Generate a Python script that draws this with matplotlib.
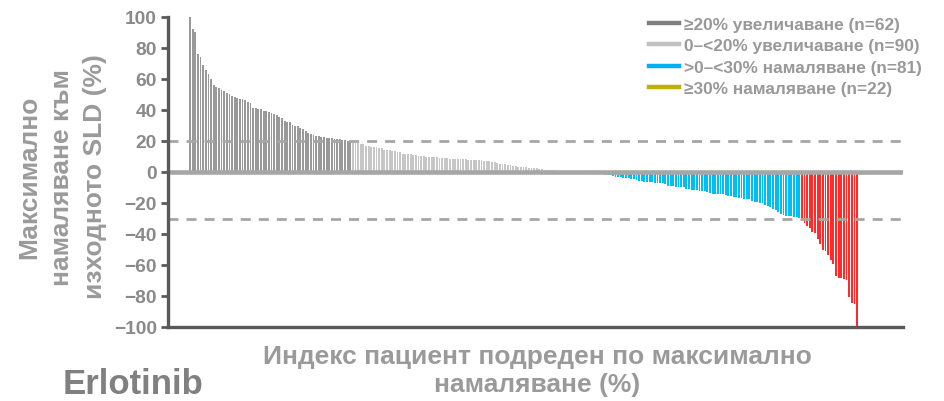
import matplotlib
matplotlib.use("Agg")
import matplotlib.pyplot as plt
from matplotlib.lines import Line2D
import numpy as np

plt.rcParams['font.family'] = ['Liberation Sans', 'DejaVu Sans']
plt.rcParams['font.weight'] = 'bold'
plt.rcParams['lines.scale_dashes'] = False

# Best change in sum of longest diameters (%), sorted, one value per patient
increase_ge20 = [100, 92, 90.5, 76, 74, 69, 66, 63.5, 60, 56, 55, 54.5, 53, 52, 51,
                 50.5, 49, 48.5, 47.5, 47, 47, 46.5, 45, 44.5, 41.5, 41, 40.8, 40.5,
                 39.5, 39.2, 38.6, 38.2, 37.5, 37, 35.5, 35, 33, 32.5, 32, 30.5, 30,
                 29.5, 28.5, 28, 26.5, 25, 24.5, 24, 23.5, 23, 22.8, 22.5, 22.2, 22,
                 21.8, 21.5, 21.2, 21, 20.8, 20.5, 20.3, 20.1]
increase_0_20 = [19, 18.7, 18.5, 18.3, 18, 17, 16.5, 16, 16, 16, 15.8, 15.5, 14.5, 14.3,
                 14, 13.5, 13.3, 13.1, 12.9, 11.8, 11.7, 11.6, 11.4, 11.2, 11, 10.6,
                 10.5, 10.3, 10, 9.9, 9.8, 9.6, 9.4, 9.3, 9.1, 9, 8.8, 8.6, 8.5, 8.4,
                 8.3, 8.2, 8.1, 8.1, 8, 8,
                 7.9, 7.8, 7.7, 7.6, 7.4, 7.2, 7.0, 6.6, 6.2, 5.8, 5.2, 5.0, 4.9, 4.7,
                 4.5, 3.8, 3.6, 3.5, 3.4, 3.1, 3.0, 2.9, 2.8, 2.8, 2.7, 2.2, 2.1, 1.6,
                 1.5, 1.4, 1.2, 1.0, 0.8, 0.7, 0.6, 0.5,
                 0.3, 0.2, 0.2, 0.1, 0.1, 0, 0, 0]
decrease_0_30 = [-0.2, -0.4, -0.6, -0.8, -1.0, -1.5,
                 -2, -2, -2.2, -2.5, -3, -3.1, -3.5, -3.7, -3.7, -4.1, -4.3, -4.8,
                 -5.1, -5.8, -5.8, -6.2, -6.4, -6.4, -6.6, -7, -7, -7, -7.2, -7.5,
                 -8.8, -9, -9.2, -9.4, -9.7, -9.7, -9.9, -11, -11.2, -11.3, -11.5,
                 -11.7, -12, -12.2, -12.5, -13, -13.3, -13.9, -14.1, -14.1, -14.3,
                 -14.5, -14.7, -15.4, -15.6, -16, -16.4, -16.6, -16.9, -17.3, -17.7,
                 -17.7, -18.6, -19.2, -19.4, -19.8, -20.2, -21.1, -21.7, -22.8,
                 -23.7, -24.8, -26, -27, -27.5, -28.1, -28.3, -28.5, -29, -29.2, -29.6]
decrease_ge30 = [-31, -33, -35, -36.3, -38.5, -39.5, -43, -46.3, -50, -51.2, -53.7,
                 -56.5, -59.6, -67, -68.5, -68.5, -69.2, -69.6, -80.6, -84.4, -85, -100]

groups = [increase_ge20, increase_0_20, decrease_0_30, decrease_ge30]
bar_colors = ['#999999', '#c6c6c6', '#00bdf2', '#ff2b2b']
legend_colors = ['#7f7f7f', '#c0c0c0', '#00b0f0', '#c0b000']
legend_labels = ['≥20% увеличаване (n=62)', '0–<20% увеличаване (n=90)',
                 '>0–<30% намаляване (n=81)', '≥30% намаляване (n=22)']
y_ticks = [100, 80, 60, 40, 20, 0, -20, -40, -60, -80, -100]
thresholds = [20, -30]

W, H = 944, 402
fig = plt.figure(figsize=(W / 100, H / 100), dpi=100)
ax = fig.add_axes([168 / W, 1 - 328 / H, (903 - 168) / W, (328 - 18) / H])

start = 0
for vals, col in zip(groups, bar_colors):
    x = np.arange(start, start + len(vals))
    ax.bar(x, vals, width=0.7, color=col, linewidth=0, zorder=2)
    start += len(vals)
n_total = start

ax.set_xlim(-8.4, n_total - 1 + 17.5)
ax.set_ylim(-100, 100)

ax.axhline(0, color='#a6a6a6', lw=3.3, zorder=3)
for t in thresholds:
    ax.axhline(t, color='#a6a6a6', lw=2.0, linestyle=(0, (7.2, 5.8)), zorder=4)

for s in ['top', 'right']:
    ax.spines[s].set_visible(False)
for s in ['left', 'bottom']:
    ax.spines[s].set_color('#595959')
    ax.spines[s].set_linewidth(2.4)
    ax.spines[s].set_zorder(5)

ax.set_xticks([])
ax.set_yticks(y_ticks)
ax.set_yticklabels([str(v).replace('-', '−') for v in y_ticks])
ax.tick_params(axis='y', direction='out', length=5, width=2, color='#595959',
               labelsize=13.8, labelcolor='#8a8a8a', pad=3)
for lab in ax.get_yticklabels():
    lab.set_fontweight('bold')

handles = [Line2D([0], [0], color=c, lw=3.2) for c in legend_colors]
leg = ax.legend(handles, legend_labels, loc='upper left',
                bbox_to_anchor=(649 / W, 1 - 18 / H), bbox_transform=fig.transFigure,
                frameon=False, handlelength=1.75, handletextpad=0.3,
                labelspacing=0.36, borderpad=0, borderaxespad=0,
                prop={'weight': 'bold', 'size': 12.4})
for txt in leg.get_texts():
    txt.set_color('#999999')

fig.text(62 / W, 1 - 177 / H, 'Максимално\nнамаляване към\nизходното SLD (%)',
         rotation=90, ha='center', va='center', multialignment='center',
         fontsize=19, fontweight='bold', color='#9a9a9a', linespacing=1.45)
fig.text(537 / W, 1 - 371 / H, 'Индекс пациент подреден по максимално\nнамаляване (%)',
         ha='center', va='center', multialignment='center',
         fontsize=19, fontweight='bold', color='#9a9a9a', linespacing=1.2)
fig.text(63 / W, 1 - 385 / H, 'Erlotinib', ha='left', va='center',
         fontsize=25, fontweight='bold', color='#808080')

fig.savefig('out.png', dpi=100)
